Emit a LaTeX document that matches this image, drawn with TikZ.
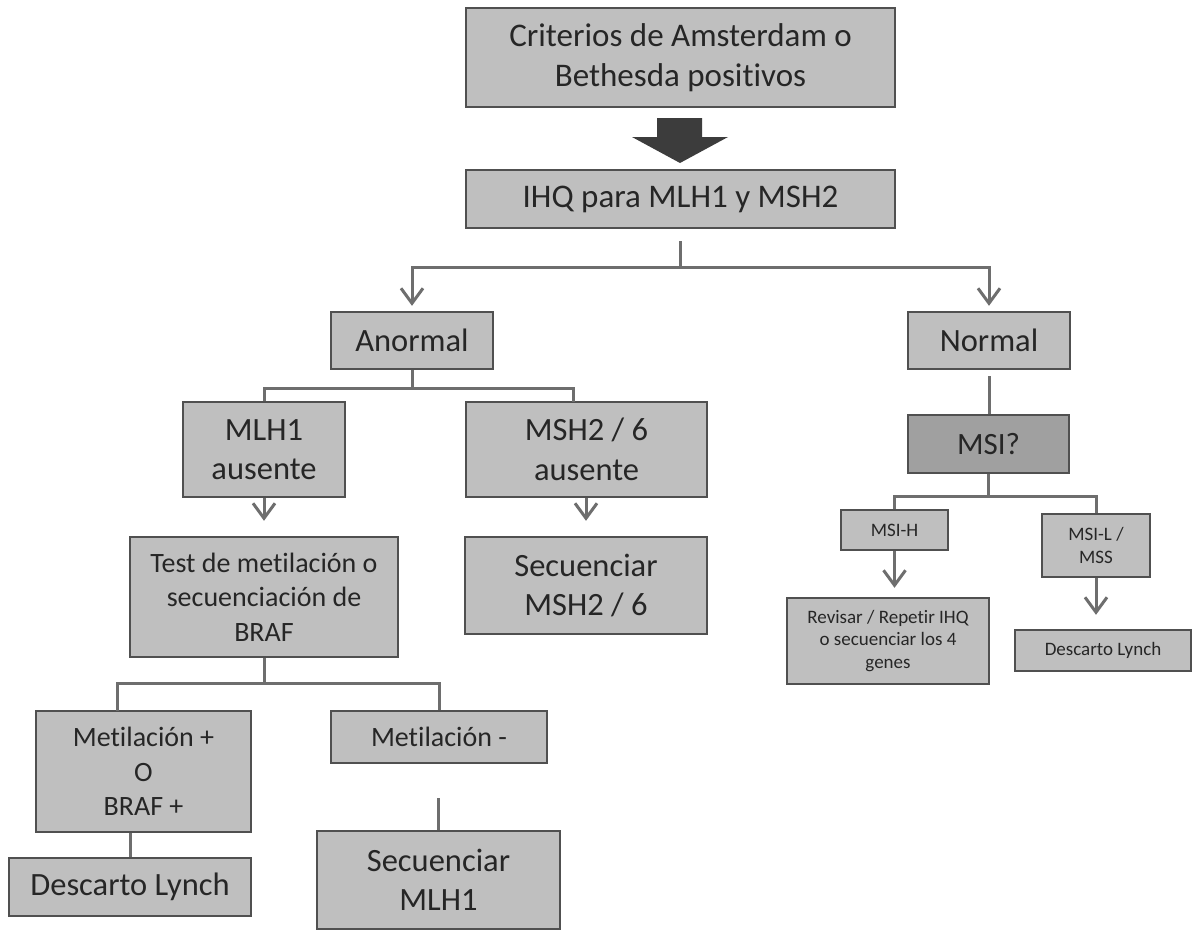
\documentclass[tikz,border=0pt]{standalone}
\usepackage{fontspec}
\setmainfont{Carlito}[Ligatures=NoCommon]
\usetikzlibrary{arrows.meta,calc}
\definecolor{boxfill}{HTML}{BFBFBF}
\definecolor{boxdark}{HTML}{A0A0A0}
\definecolor{boxline}{HTML}{505050}
\definecolor{connline}{HTML}{6E6E6E}
\definecolor{txt}{HTML}{262626}
\definecolor{bigarrow}{HTML}{3C3C3C}
\tikzset{
  box/.style={draw=boxline, line width=2.4pt, fill=boxfill, text=txt, inner sep=0pt, align=center},
  fbig/.style={font=\fontsize{32.5}{39.5}\selectfont},
  ftop/.style={font=\fontsize{33}{40}\selectfont},
  fmid/.style={font=\fontsize{28}{34.5}\selectfont},
  fsmall/.style={font=\fontsize{19}{22.8}\selectfont},
  conn/.style={draw=connline, line width=3pt},
  arr/.style={-{Straight Barb[length=15pt,width=22pt,line width=3pt]}},
}
\newcommand{\bx}[7]{% name, left, right, top, bottom, style, text
  \node[box,#6, minimum width={#3-#2}, minimum height={#5-#4}] (#1) at ({(#2+#3)/2},{(#4+#5)/2}) {#7};}
\begin{document}
\begin{tikzpicture}[x=1pt,y=-1pt]
\useasboundingbox[fill=white] (0,0) rectangle (1196,932);
% boxes
\bx{top}{466}{895}{8}{107}{ftop}{Criterios de Amsterdam o\\Bethesda positivos}
\bx{ihq}{466}{895}{170}{228}{ftop}{IHQ para MLH1 y MSH2}
\bx{anormal}{331}{493}{312}{369}{fbig}{Anormal}
\bx{normal}{908}{1070}{312}{369}{fbig}{Normal}
\bx{mlh1}{183}{345}{402}{497}{fbig}{MLH1\\ausente}
\bx{msh2}{466}{707}{402}{497}{fbig}{MSH2 / 6\\ausente}
\bx{test}{130}{398}{537}{657}{fmid}{Test de metilación o\\secuenciación de\\BRAF}
\bx{secmsh}{465}{707}{537}{634}{fbig}{Secuenciar\\MSH2 / 6}
\bx{metp}{36}{251}{711}{832}{fmid}{Metilación +\\O\\BRAF +}
\bx{metm}{331}{547}{711}{763}{fmid}{Metilación -}
\bx{descL}{9}{251}{858}{916}{fbig}{Descarto Lynch}
\bx{secmlh}{317}{560}{831}{929}{fbig}{Secuenciar\\MLH1}
\bx{msi}{908}{1069}{415}{473}{font=\fontsize{31}{37}\selectfont, fill=boxdark}{MSI?}
\bx{msih}{841}{948}{510}{550}{fsmall}{MSI-H}
\bx{msil}{1042}{1150}{514}{577}{fsmall}{MSI-L /\\MSS}
\bx{revisar}{787}{989}{598}{684}{fsmall}{Revisar / Repetir IHQ\\o secuenciar los 4\\genes}
\bx{descR}{1015}{1191}{630}{671}{fsmall}{Descarto Lynch}
% big arrow
\fill[bigarrow] (657,118) -- (702,118) -- (702,137) -- (728,137) -- (680,163) -- (632,137) -- (657,137) -- cycle;
% junctions
\coordinate (j1) at (680.5,267);
\coordinate (j2) at (412,388);
\coordinate (m2top) at (573,402);
\coordinate (j3) at (264,683);
\coordinate (mpdrop) at (117,711);
\coordinate (j4) at (988.5,496);
% connectors
\draw[conn, shorten <=12pt] (ihq.south) -- (j1);
\draw[conn, arr, shorten >=5pt] (j1) -| (anormal.north);
\draw[conn, arr, shorten >=5pt] (j1) -| (normal.north);
\draw[conn] (anormal.south) -- (j2);
\draw[conn] (mlh1.north) |- (j2) -| (m2top);
\draw[conn, arr, shorten >=15pt] (mlh1.south) -- (mlh1.south |- test.north);
\draw[conn, arr, shorten >=15pt] (msh2.south -| secmsh.north) -- (secmsh.north);
\draw[conn] (test.south) -- (j3);
\draw[conn] (mpdrop) |- (j3) -| (metm.north);
\draw[conn] (metp.south -| descL.north) -- (descL.north);
\draw[conn, shorten <=34pt] (metm.south -| secmlh.north) -- (secmlh.north);
\draw[conn, shorten <=6pt] (normal.south) -- (normal.south |- msi.north);
\draw[conn] (msi.south) -- (j4);
\draw[conn] (msih.north) |- (j4) -| (msil.north);
\draw[conn, arr, shorten >=9pt] (msih.south) -- (msih.south |- revisar.north);
\draw[conn, arr, shorten >=14pt] (msil.south) -- (msil.south |- descR.north);
\end{tikzpicture}
\end{document}
